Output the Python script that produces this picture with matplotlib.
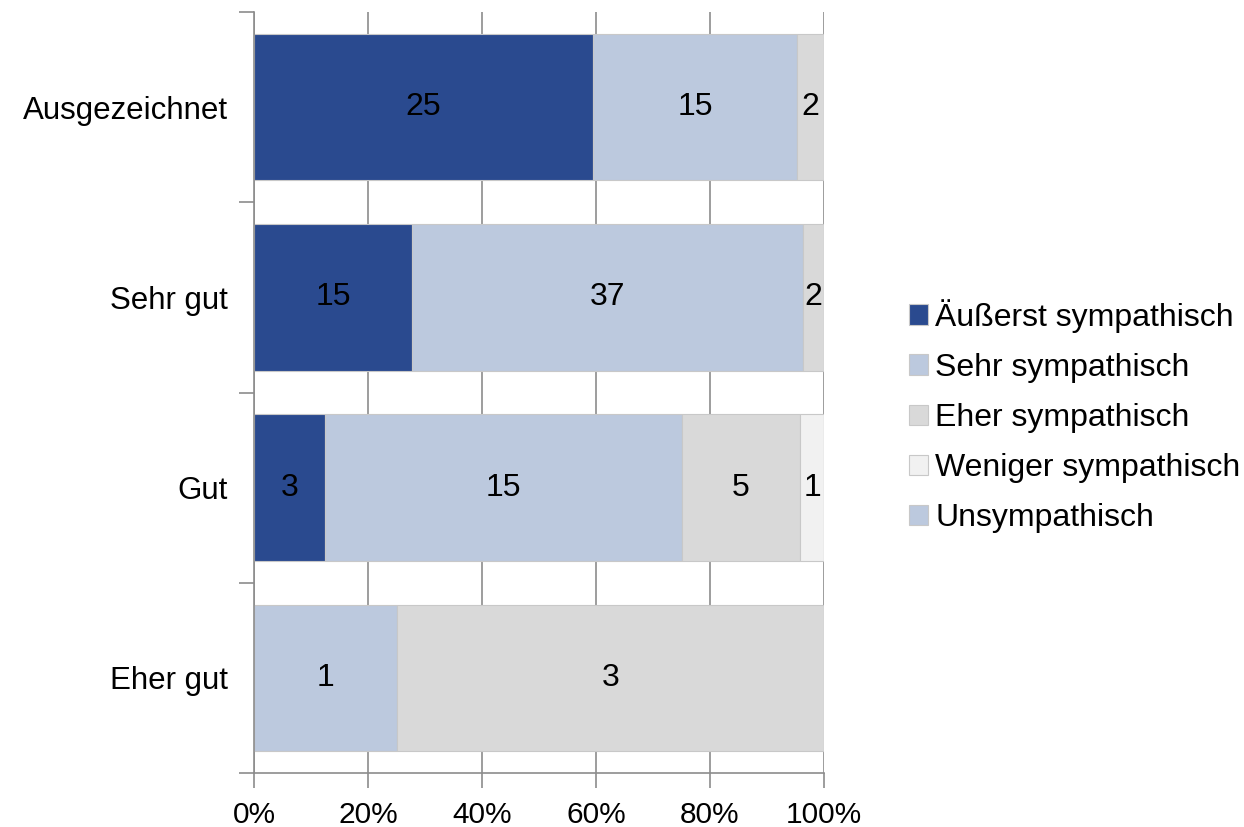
import numpy as np
import matplotlib.pyplot as plt
from matplotlib.patches import Patch
from matplotlib.ticker import FixedLocator, PercentFormatter

plt.rcParams['font.family'] = ['Liberation Sans', 'DejaVu Sans']

categories = ["Ausgezeichnet", "Sehr gut", "Gut", "Eher gut"]
series = ["Äußerst sympathisch", "Sehr sympathisch", "Eher sympathisch",
          "Weniger sympathisch", "Unsympathisch"]
counts = np.array([
    [25, 15, 2, 0, 0],
    [15, 37, 2, 0, 0],
    [3, 15, 5, 1, 0],
    [0, 1, 3, 0, 0],
])
colors = ["#2A4A8F", "#BCC9DE", "#D9D9D9", "#F1F1F1", "#BCC9DE"]

shares = counts / counts.sum(axis=1, keepdims=True) * 100

fig = plt.figure(figsize=(12.44, 8.27), dpi=100)
ax = fig.add_axes([254 / 1244, 1 - 773 / 827, 570 / 1244, 761 / 827])

y = np.arange(len(categories))
left = np.zeros(len(categories))
for j, name in enumerate(series):
    ax.barh(y, shares[:, j], left=left, height=0.77, color=colors[j],
            edgecolor="#C8C8C8", linewidth=0.8, zorder=2)
    for i in range(len(categories)):
        if counts[i, j] > 0:
            ax.text(left[i] + shares[i, j] / 2, y[i], str(counts[i, j]),
                    ha="center", va="center", fontsize=23, color="black", zorder=3)
    left += shares[:, j]

ax.set_xlim(0, 100)
ax.set_ylim(len(categories) - 0.5, -0.5)
ax.set_xticks(np.arange(0, 101, 20))
ax.xaxis.set_major_formatter(PercentFormatter(decimals=0))
ax.grid(axis="x", color="#8C8C8C", linewidth=1.2, zorder=0)
ax.set_axisbelow(True)

# category labels centred, tick marks on the band boundaries
ax.set_yticks(y)
ax.set_yticklabels(categories)
ax.yaxis.set_minor_locator(FixedLocator(np.arange(-0.5, len(categories), 1)))
ax.tick_params(axis="y", which="major", length=0, pad=19, labelsize=22.5)
ax.tick_params(axis="y", which="minor", length=11, width=1.2, color="#8C8C8C")
ax.tick_params(axis="x", length=11, width=1.2, color="#8C8C8C", pad=9, labelsize=21.5)

for side in ["top", "right"]:
    ax.spines[side].set_visible(False)
for side in ["left", "bottom"]:
    ax.spines[side].set_color("#8C8C8C")
    ax.spines[side].set_linewidth(1.2)

handles = [Patch(facecolor=c, edgecolor="#C8C8C8", linewidth=0.8) for c in colors]
fig.legend(handles, series, loc="center left", bbox_to_anchor=(909 / 1244, 1 - 416 / 827),
           frameon=False, fontsize=23, handlelength=0.6, handleheight=0.6,
           handletextpad=0.22, labelspacing=0.63, borderpad=0, borderaxespad=0)

fig.savefig("out.png", dpi=100)
